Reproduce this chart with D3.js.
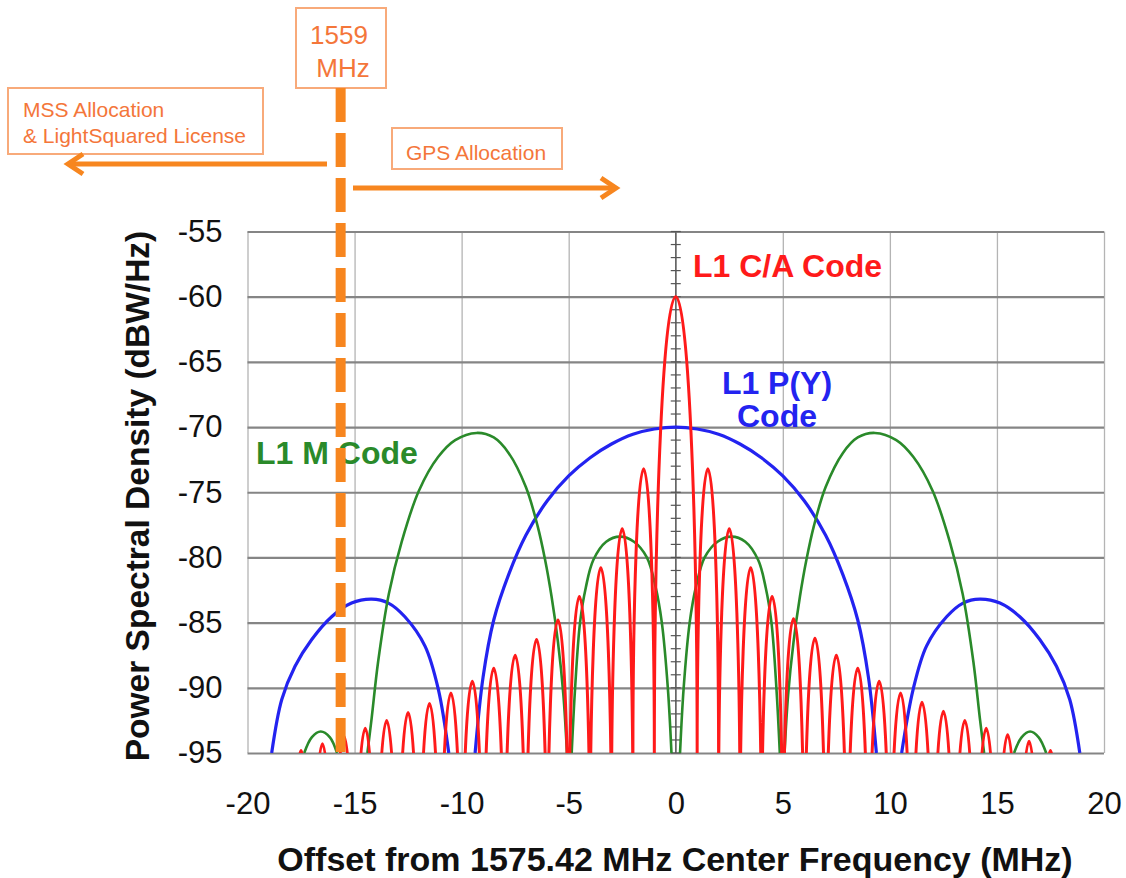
<!DOCTYPE html>
<html>
<head>
<meta charset="utf-8">
<script src="https://cdn.jsdelivr.net/npm/d3@7"></script>
<style>
  body { margin: 0; background: #fff; }
  svg { display: block; font-family: "Liberation Sans", Arial, Helvetica, sans-serif; }
</style>
</head>
<body>
<svg id="chart" width="1126" height="878"></svg>
<script>
// axis ticks
var xTicks = [-20, -15, -10, -5, 0, 5, 10, 15, 20];
var yTicks = [-95, -90, -85, -80, -75, -70, -65, -60, -55];

// L1 C/A code: nulls (MHz) and the peak of each lobe between two nulls (dBW/Hz)
var caNulls = [-18, -17, -16, -15, -14, -13, -12, -11, -10, -9, -8, -7, -6, -5, -4, -3, -2, -1,
               1, 2, 3, 4, 5, 6, 7, 8, 9, 10, 11, 12, 13, 14, 15, 16, 17, 18];
var caPeaks = [-94.8, -94.3, -93.7, -93.1, -92.5, -91.9, -91.2, -90.4, -89.5, -88.5, -87.5, -86.3,
               -84.8, -83.0, -80.8, -77.8, -73.2, -60.0, -73.2, -77.8, -80.8, -83.0, -84.7, -86.2,
               -87.5, -88.5, -89.5, -90.4, -91.1, -91.8, -92.5, -93.1, -93.6, -94.1, -94.8];

// L1 P(Y) code, [MHz, dBW/Hz]
var pyLeftLobe = [[-18.87, -95], [-18.4, -90.9], [-17.78, -88.35], [-17.0, -86.3], [-16.07, -84.55],
                  [-15.14, -83.5], [-14.2, -83.2], [-13.42, -83.5], [-12.65, -84.55], [-11.71, -86.8],
                  [-11.09, -90.1], [-10.6, -95]];
var pyMainLobe = [[-9.37, -95], [-9.0, -89.2], [-8.5, -84.8], [-7.8, -81.3], [-7, -78.3], [-6, -75.65],
                  [-5, -73.75], [-4, -72.35], [-3, -71.3], [-2, -70.55], [-1, -70.15], [0, -70],
                  [1, -70.15], [2, -70.55], [3, -71.3], [4, -72.35], [5, -73.75], [6, -75.65],
                  [7, -78.3], [7.8, -81.3], [8.5, -84.8], [9.0, -89.2], [9.37, -95]];
var pyRightLobe = [[10.55, -95], [11.09, -90.1], [11.71, -86.8], [12.65, -84.55], [13.42, -83.5],
                   [14.2, -83.2], [15.14, -83.5], [16.07, -84.55], [17.0, -86.3], [17.78, -88.35],
                   [18.4, -90.9], [18.87, -95]];

// L1 M code, [MHz, dBW/Hz]
var mOuterLeft = [[-17.35, -95], [-17.0, -93.8], [-16.58, -93.35], [-16.15, -93.8], [-15.82, -95]];
var mMainLeft = [[-14.4, -95], [-14.2, -92.3], [-13.9, -88.0], [-13.4, -82.8], [-12.8, -78.8],
                 [-12.0, -74.9], [-11.1, -72.3], [-10.3, -71.0], [-9.3, -70.45], [-8.5, -70.8],
                 [-7.8, -72.0], [-7.0, -74.6], [-6.45, -77.6], [-6.1, -80.2], [-5.8, -83.0],
                 [-5.5, -86.5], [-5.25, -90.5], [-5.08, -95]];
var mInnerLeft = [[-4.86, -95], [-4.7, -90], [-4.47, -85], [-4.2, -82.3], [-3.85, -80.2], [-3.25, -78.8],
                  [-2.6, -78.4], [-1.95, -78.8], [-1.35, -80], [-0.95, -82.2], [-0.65, -85],
                  [-0.37, -90], [-0.2, -95]];
var mInnerRight = [[0.2, -95], [0.37, -90], [0.65, -85], [0.95, -82.2], [1.35, -80], [1.95, -78.8],
                   [2.6, -78.4], [3.25, -78.8], [3.85, -80.2], [4.2, -82.3], [4.47, -85], [4.7, -90],
                   [4.86, -95]];
var mMainRight = [[5.08, -95], [5.25, -90.5], [5.5, -86.5], [5.8, -83.0], [6.1, -80.2], [6.45, -77.6],
                  [7.0, -74.6], [7.8, -72.0], [8.5, -70.8], [9.3, -70.45], [10.3, -71.0], [11.1, -72.3],
                  [12.0, -74.9], [12.8, -78.8], [13.4, -82.8], [13.9, -88.0], [14.2, -92.3], [14.4, -95]];
var mOuterRight = [[15.8, -95], [16.15, -93.8], [16.55, -93.35], [16.95, -93.8], [17.3, -95]];

// 1559 MHz band edge, where it is drawn
var edgeFreq = -15.65;

var plot = {left: 247.5, right: 1104, top: 231.5, bottom: 753};
var x = d3.scaleLinear().domain([-20, 20]).range([plot.left, plot.right]);
var y = d3.scaleLinear().domain([-95, -55]).range([plot.bottom, plot.top]);

var svg = d3.select('#chart');

svg.append('defs').append('clipPath').attr('id', 'plot-clip')
    .append('rect')
    .attr('x', plot.left).attr('y', plot.top)
    .attr('width', plot.right - plot.left).attr('height', plot.bottom - plot.top);

// vertical grid + x tick labels
var gx = svg.append('g')
    .attr('transform', `translate(0,${plot.bottom})`)
    .call(d3.axisBottom(x).tickValues(xTicks).tickSize(-(plot.bottom - plot.top)).tickPadding(39)
        .tickFormat(d => String(d)));
gx.select('.domain').remove();
gx.selectAll('line').attr('stroke', '#b4b4b4').attr('stroke-width', 1.3);
gx.selectAll('text').attr('font-size', 31).attr('fill', '#111').attr('font-family', null);

// horizontal grid + y tick labels
var gy = svg.append('g')
    .attr('transform', `translate(${plot.left},0)`)
    .call(d3.axisLeft(y).tickValues(yTicks).tickSize(-(plot.right - plot.left)).tickPadding(25)
        .tickFormat(d => String(d)));
gy.select('.domain').remove();
gy.selectAll('line').attr('stroke', '#858585').attr('stroke-width', 2.2);
gy.selectAll('text').attr('font-size', 31).attr('fill', '#111').attr('font-family', null);

// centre axis with 1 dB ticks
var x0 = x(0);
svg.append('line')
    .attr('x1', x0).attr('x2', x0).attr('y1', plot.top).attr('y2', plot.bottom)
    .attr('stroke', '#666').attr('stroke-width', 1.5);
svg.append('g').selectAll('line')
    .data(y.ticks(40))
    .join('line')
    .attr('x1', x0 - 5).attr('x2', x0 + 5)
    .attr('y1', d => y(d)).attr('y2', d => y(d))
    .attr('stroke', '#555').attr('stroke-width', 1.2);

// curves
var curves = svg.append('g').attr('clip-path', 'url(#plot-clip)').attr('fill', 'none');

var line = d3.line()
    .x(d => x(d[0]))
    .y(d => y(d[1]))
    .curve(d3.curveCatmullRom.alpha(0.5));

[pyLeftLobe, pyMainLobe, pyRightLobe].forEach(lobe => {
    curves.append('path').attr('d', line(lobe))
        .attr('stroke', '#2323f0').attr('stroke-width', 3.2);
});

[mOuterLeft, mMainLeft, mInnerLeft, mInnerRight, mMainRight, mOuterRight].forEach(lobe => {
    curves.append('path').attr('d', line(lobe))
        .attr('stroke', '#2a8a2a').attr('stroke-width', 2.6);
});

// each C/A lobe drawn as an arch from null to null, through its peak
var K = 0.5523;
var lobeDepth = 22;
function lobePath(nulls, peaks) {
    var p = d3.path();
    peaks.forEach((pk, i) => {
        var xa = x(nulls[i]), xb = x(nulls[i + 1]), xm = (xa + xb) / 2;
        var yp = y(pk), yf = y(Math.min(-95, pk - lobeDepth));
        if (i === 0) p.moveTo(xa, yf); else p.lineTo(xa, yf);
        p.bezierCurveTo(xa, yf + K * (yp - yf), xm - K * (xm - xa), yp, xm, yp);
        p.bezierCurveTo(xm + K * (xb - xm), yp, xb, yf + K * (yp - yf), xb, yf);
    });
    return p.toString();
}

curves.append('path')
    .attr('d', lobePath(caNulls, caPeaks))
    .attr('stroke', '#ff1a1a').attr('stroke-width', 3)
    .attr('stroke-linejoin', 'round');

// curve labels
svg.append('text').attr('x', 693).attr('y', 277)
    .attr('font-size', 32).attr('font-weight', 'bold').attr('fill', '#ff1a1a')
    .text('L1 C/A Code');
svg.append('text').attr('x', 777).attr('y', 394).attr('text-anchor', 'middle')
    .attr('font-size', 32).attr('font-weight', 'bold').attr('fill', '#2323f0')
    .text('L1 P(Y)');
svg.append('text').attr('x', 777).attr('y', 427).attr('text-anchor', 'middle')
    .attr('font-size', 32).attr('font-weight', 'bold').attr('fill', '#2323f0')
    .text('Code');
svg.append('text').attr('x', 256).attr('y', 464)
    .attr('font-size', 32).attr('font-weight', 'bold').attr('fill', '#2a8a2a')
    .text('L1 M Code');

// axis titles
svg.append('text')
    .attr('transform', 'translate(149,496) rotate(-90)')
    .attr('text-anchor', 'middle')
    .attr('font-size', 33.5).attr('font-weight', 'bold').attr('fill', '#111')
    .text('Power Spectral Density (dBW/Hz)');
svg.append('text')
    .attr('x', 675).attr('y', 871)
    .attr('text-anchor', 'middle')
    .attr('font-size', 34).attr('font-weight', 'bold').attr('fill', '#111')
    .text('Offset from 1575.42 MHz Center Frequency (MHz)');

// band allocation notes
var orange = '#f7861f', boxLine = '#f8aa7a', noteText = '#f4763a';

function noteBox(bx, by, bw, bh) {
    svg.append('rect')
        .attr('x', bx).attr('y', by).attr('width', bw).attr('height', bh)
        .attr('fill', '#fff').attr('stroke', boxLine).attr('stroke-width', 2);
}
function note(tx, ty, size, txt, anchor) {
    svg.append('text').attr('x', tx).attr('y', ty)
        .attr('font-size', size).attr('fill', noteText)
        .attr('text-anchor', anchor || 'start')
        .text(txt);
}

noteBox(296, 8, 90, 80);
note(339, 44, 26, '1559', 'middle');
note(343, 77, 26, 'MHz', 'middle');

noteBox(8, 88, 255, 66);
note(23, 117, 21, 'MSS Allocation');
note(23, 143, 21, '& LightSquared License');

noteBox(392, 128, 170, 41);
note(406, 160, 21, 'GPS Allocation');

// arrows
svg.append('line').attr('x1', 327).attr('x2', 70).attr('y1', 164).attr('y2', 164)
    .attr('stroke', orange).attr('stroke-width', 5);
svg.append('polyline').attr('points', '83,154 68,164 83,174')
    .attr('fill', 'none').attr('stroke', orange).attr('stroke-width', 5);
svg.append('line').attr('x1', 353).attr('x2', 614).attr('y1', 188).attr('y2', 188)
    .attr('stroke', orange).attr('stroke-width', 5);
svg.append('polyline').attr('points', '601,178 616,188 601,198')
    .attr('fill', 'none').attr('stroke', orange).attr('stroke-width', 5);

// 1559 MHz edge
svg.append('line')
    .attr('x1', x(edgeFreq)).attr('x2', x(edgeFreq))
    .attr('y1', 88).attr('y2', 760)
    .attr('stroke', orange).attr('stroke-width', 10)
    .attr('stroke-dasharray', '34 11');
</script>
</body>
</html>
